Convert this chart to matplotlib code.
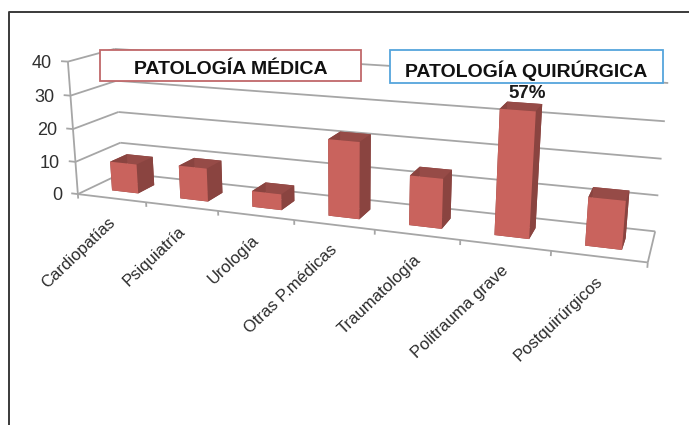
import matplotlib
matplotlib.use('Agg')
import matplotlib.pyplot as plt
from matplotlib.lines import Line2D
from matplotlib.patches import Rectangle
from mpl_toolkits.mplot3d.art3d import Line3DCollection
import numpy as np

categories = ['Cardiopatías', 'Psiquiatría', 'Urología', 'Otras P.médicas',
              'Traumatología', 'Politrauma grave', 'Postquirúrgicos']
values = [9, 10, 4.7, 22, 14, 34, 13]
z_ticks = [0, 10, 20, 30, 40]

W, H = 689, 425
plt.rcParams['font.family'] = ['Liberation Sans', 'DejaVu Sans']

# perspective of the picture: (category, depth, value) -> pixel, fitted on the chart corners
calib_3d = [(0, 0, 0), (1, 0, 0), (2, 0, 0), (3, 0, 0), (4, 0, 0), (5, 0, 0), (6, 0, 0), (7, 0, 0),
            (0, 1, 0), (7, 1, 0), (0, 0, 40), (0, 0, 20), (0, 1, 40), (0, 1, 20), (7, 1, 40), (7, 1, 20)]
calib_px = [(79, 193), (146, 203), (218, 212), (294, 220), (375, 230), (460, 241), (551, 251), (648, 261),
            (122, 173), (655, 231), (68, 62), (72, 128), (115, 49), (118, 112), (668, 83), (662, 159)]
rows = []
for (x, y, z), (u, v) in zip(calib_3d, calib_px):
    rows.append([x, y, z, 1, 0, 0, 0, 0, -u * x, -u * y, -u * z, -u])
    rows.append([0, 0, 0, 0, x, y, z, 1, -v * x, -v * y, -v * z, -v])
P = np.linalg.svd(np.array(rows, dtype=float))[2][-1].reshape(3, 4)
P = P / P[2, 3]


def to_fig(x, y, z, du=0, dv=0):
    u, v, w = P @ [x, y, z, 1]
    return (u / w + du) / W, 1 - (v / w + dv) / H


fig = plt.figure(figsize=(W / 100, H / 100), dpi=100, facecolor='white')
ax = fig.add_axes([0, 0, 1, 1], projection='3d')
ax.apply_aspect = lambda position=None: None
ax.set_axis_off()
ax.computed_zorder = False
ax.patch.set_alpha(0)
ax.viewLim.intervalx = (0, W)
ax.viewLim.intervaly = (H, 0)
# third row only orders the faces: far, left and low faces are painted first
M = np.vstack([P[0], P[1], [-0.01, 1, -0.001, 2], P[2]])
ax.get_proj = lambda: M

segments = []
for z in z_ticks:
    segments.append([(0, 0, z), (0, 1, z)])
    segments.append([(0, 1, z), (7, 1, z)])
    segments.append([(0, 0, z), (-0.1, 0, z)])
    tx, ty = to_fig(-0.24, 0, z, dv=3)
    fig.text(tx, ty, str(z), fontsize=13, color='#303030', ha='right', va='center')
segments.append([(0, 0, 0), (0, 0, 40)])
segments.append([(0, 0, 0), (7, 0, 0)])
segments.append([(7, 0, 0), (7, 1, 0)])
for i in range(8):
    segments.append([(i, 0, 0), (i, 0, -1.4)])
ax.add_collection3d(Line3DCollection(segments, colors='#a6a6a6', linewidths=1.3, zorder=1, clip_on=False))

# bar3d face order: bottom, top, front, back, left, right
face_colors = ['#8a4440', '#964b47', '#c9635d', '#8a4440', '#8a4440', '#8a4440']
bar_x = np.arange(len(values)) + 0.32
ax.bar3d(bar_x, np.full(len(values), 0.28), np.zeros(len(values)), 0.39, 0.38, values,
         color=face_colors * len(values), shade=False, linewidth=0, zorder=2)

for i, name in enumerate(categories):
    tx, ty = to_fig(i + 0.5, 0, 0, du=-4, dv=17)
    fig.text(tx, ty, name, fontsize=12, color='#2a2a2a', rotation=43.5,
             ha='right', va='top', rotation_mode='anchor')

tx, ty = to_fig(5.5, 0.66, values[5], du=4, dv=-9)
fig.text(tx, ty, '57%', fontsize=13.5, fontweight='bold', color='#1a1a1a',
         ha='center', va='center', zorder=9)


def label_box(x0, y0, x1, y1, edge, text):
    fig.add_artist(Rectangle((x0 / W, 1 - y1 / H), (x1 - x0) / W, (y1 - y0) / H, transform=fig.transFigure,
                             facecolor='white', edgecolor=edge, lw=1.3, zorder=6))
    fig.text((x0 + x1) / 2 / W, 1 - ((y0 + y1) / 2 + 4) / H, text, fontsize=14, fontweight='bold',
             color='#111111', ha='center', va='center', zorder=7)


label_box(100, 50, 361, 81, '#c0686a', 'PATOLOGÍA MÉDICA')
label_box(390, 50, 663, 83, '#55a5dc', 'PATOLOGÍA QUIRÚRGICA')

# frame of the original slide
fig.add_artist(Line2D([8.5 / W, 8.5 / W, 1], [0, 1 - 11.5 / H, 1 - 11.5 / H], transform=fig.transFigure,
                      color='#3a3a3a', lw=1.4, zorder=8))

fig.savefig('out.png', dpi=100)
